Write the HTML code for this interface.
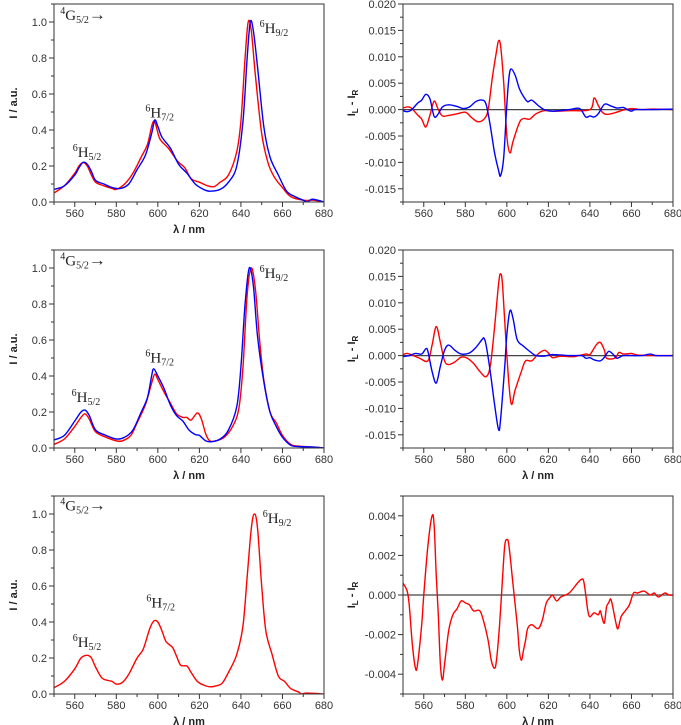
<!DOCTYPE html>
<html><head><meta charset="utf-8">
<style>
html,body{margin:0;padding:0;background:#fff;}
svg{display:block;}
.tk{font-family:"Liberation Sans",Arial,sans-serif;font-size:11px;fill:#333;}
.at{font-family:"Liberation Sans",Arial,sans-serif;font-size:11px;font-weight:bold;fill:#222;}
.lb{font-family:"Liberation Serif",serif;font-size:15px;fill:#222;}
</style></head>
<body>
<svg id="fig" width="681" height="725" viewBox="0 0 681 725" xmlns="http://www.w3.org/2000/svg"></svg>
<script>
// ---- data (wavelength nm, value) ----
const p1RedX=[550,555,560,562,564,566,568,570,574,578,580,584,588,592,595,597,598,599,601,605,608,610,613,616,620,624,627,630,634,638,640,642,643.5,645,647,650,653,656,660,664,670,675,680];
const p1RedY=[0.05,0.09,0.16,0.2,0.22,0.2,0.15,0.11,0.09,0.075,0.07,0.1,0.16,0.25,0.32,0.42,0.45,0.43,0.35,0.3,0.25,0.22,0.19,0.13,0.11,0.09,0.085,0.11,0.15,0.28,0.45,0.8,1.0,0.95,0.7,0.38,0.22,0.14,0.08,0.03,0.01,0.01,0.0];
const p1BlueX=[550,555,560,562,564,566,568,570,574,578,582,586,590,594,597,598.5,600,602,606,610,614,618,622,625,630,634,638,641,643,644.5,646,648,651,654,658,662,666,670,672,674,677,680];
const p1BlueY=[0.07,0.09,0.15,0.19,0.22,0.21,0.17,0.12,0.1,0.08,0.075,0.1,0.18,0.26,0.38,0.455,0.42,0.36,0.3,0.21,0.16,0.1,0.07,0.06,0.07,0.11,0.2,0.45,0.8,1.0,0.95,0.75,0.42,0.25,0.15,0.06,0.03,0.01,0.0,0.015,0.01,0.0];

const p4RedX=[550,555,560,563,565,567,570,575,580,583,587,590,594,597,598.5,600,603,606,609,612,614,616,619,621,623,625,628,632,636,639,641,643,645,647,649,651,654,657,660,664,668,675,680];
const p4RedY=[0.02,0.05,0.12,0.17,0.19,0.16,0.09,0.06,0.04,0.04,0.07,0.14,0.24,0.36,0.41,0.38,0.31,0.25,0.19,0.17,0.17,0.155,0.195,0.16,0.08,0.04,0.04,0.06,0.12,0.22,0.45,0.85,1.0,0.88,0.6,0.38,0.2,0.14,0.07,0.02,0.01,0.005,0.0];
const p4BlueX=[550,555,560,563,565,567,570,575,580,584,588,592,595,597,598,600,603,606,609,612,615,618,620,623,626,630,634,638,640,642,644,646,648,651,654,657,660,664,668,675,680];
const p4BlueY=[0.045,0.07,0.15,0.2,0.21,0.18,0.1,0.07,0.05,0.06,0.1,0.2,0.28,0.4,0.44,0.4,0.33,0.24,0.18,0.15,0.1,0.075,0.07,0.04,0.035,0.05,0.1,0.23,0.45,0.8,1.0,0.9,0.62,0.37,0.2,0.12,0.06,0.015,0.008,0.005,0.0];

const p3RedX=[550,555,560,563,566,568,570,573,576,578,580,583,586,590,593,596,598,600,602,604,607,609,611,614,616,619,622,625,628,631,634,638,641,643,645,646.5,648,650,652,655,658,661,664,668,669,672,680];
const p3RedY=[0.035,0.07,0.14,0.2,0.215,0.2,0.15,0.09,0.075,0.07,0.055,0.065,0.11,0.2,0.25,0.36,0.405,0.4,0.35,0.29,0.26,0.21,0.16,0.155,0.12,0.07,0.05,0.04,0.045,0.06,0.12,0.22,0.38,0.65,0.92,1.0,0.92,0.6,0.35,0.22,0.1,0.07,0.03,0.01,0.0,0.005,0.0];

const p2RedX=[550,552,554,557,559,561,563,565,567,569,572,576,580,583,586,589,591,593,595,596,597,598.5,600,601.5,603,606,608,611,614,618,622,630,640,642,644,646,648,652,656,660,665,670,680];
const p2RedY=[0.0003,0.0005,0.0003,-0.001,-0.0018,-0.0033,-0.001,0.0016,0.0,-0.0012,-0.0011,-0.0008,-0.0005,-0.0015,-0.0023,-0.0018,0.0,0.006,0.011,0.013,0.012,0.005,-0.005,-0.0082,-0.006,-0.0025,-0.0017,-0.0018,-0.0008,-0.0002,-0.0003,-0.0002,0.0,0.0022,0.0008,-0.0005,-0.0009,-0.0006,-0.0001,0.0002,0.0,0.0001,0.0];
const p2BlueX=[550,552,554,557,559,561,563,565,567,569,572,576,579,582,585,588,590,592,594,596,597,598.5,600,601,602,604,606,608,610,612,615,618,622,630,635,638,640,642,644,647,650,653,656,658,660,662,670,680];
const p2BlueY=[-0.0002,-0.0004,-0.0001,0.0012,0.0018,0.0029,0.002,-0.0013,-0.0008,0.0005,0.0009,0.0006,0.0002,0.0005,0.0015,0.0018,0.001,-0.003,-0.008,-0.0115,-0.0125,-0.009,0.001,0.006,0.0077,0.0065,0.004,0.0025,0.0015,0.0018,0.0008,0.0,-0.0003,0.0,0.0002,-0.0014,-0.0012,-0.0014,-0.0008,0.001,0.0007,0.0003,0.0004,0.0,-0.0003,0.0,0.0,0.0001];

const p5RedX=[550,552,555,558,562,564,566,568,570,572,575,578,581,584,587,590,592,594,596,597,598,600,602,604,607,609,612,615,618,620,622,626,632,638,640,643,645,647,648,652,654,656,660,663,670,680];
const p5RedY=[0.0002,0.0004,0.0,-0.0005,-0.001,0.002,0.0055,0.0025,-0.001,-0.0017,-0.0012,-0.0003,-0.0005,-0.0015,-0.003,-0.004,-0.002,0.005,0.0135,0.0155,0.013,0.0,-0.009,-0.0065,-0.003,-0.001,-0.001,0.0003,0.001,0.0005,-0.0004,-0.0001,-0.0002,0.0003,0.0002,0.002,0.0025,0.001,-0.0005,-0.0005,0.0006,0.0003,0.0004,0.0001,0.0,0.0];
const p5BlueX=[550,553,556,559,561,562,564,566,568,570,572,575,578,582,585,588,589,590,592,594,596,597,599,600,601.5,603,605,608,611,614,618,622,630,636,638,640,642,645,647,649,651,653,656,660,665,669,672,680];
const p5BlueY=[-0.0002,0.0,0.0004,0.0003,0.0013,0.0008,-0.003,-0.0052,-0.002,0.001,0.002,0.001,0.0003,0.0005,0.0015,0.003,0.0033,0.002,-0.003,-0.009,-0.014,-0.012,-0.002,0.004,0.0085,0.007,0.003,0.0018,0.0008,0.0,-0.0001,0.0002,0.0,0.0,-0.0005,-0.0004,-0.0008,-0.001,-0.0003,0.0008,0.0003,-0.0005,0.0,0.0,0.0,0.0003,0.0,0.0];

const p6RedX=[550,552,553,554.5,556,557,559,560,562,564,565,566,567,568,569,570,572,574,576,578,580,582,584,587,589,591,592.5,594,595,596.5,598,599,600,601,603,605,606,607,608,609,610,612,615,617,619,621,622,624,626,630,634,636,637,638,639,640,642,644,645,646,647,648,649,650,651,652.5,653.5,655,657,659,661,663,666,669,671,673,676,678,680];
const p6RedY=[0.0006,0.0002,-0.0005,-0.0025,-0.0037,-0.0035,-0.0015,0.0,0.0025,0.004,0.0035,0.001,-0.001,-0.0035,-0.0043,-0.0035,-0.0018,-0.001,-0.0007,-0.0003,-0.0004,-0.0005,-0.0008,-0.0008,-0.0014,-0.0023,-0.0033,-0.0037,-0.0033,-0.0015,0.001,0.0025,0.0028,0.0025,0.0005,-0.0015,-0.0028,-0.0033,-0.0028,-0.0023,-0.0017,-0.0015,-0.0017,-0.0013,-0.0004,-0.0001,0.0,-0.0003,-0.0001,0.0001,0.0006,0.0008,0.0007,0.0,-0.0008,-0.0011,-0.0009,-0.001,-0.0008,-0.0012,-0.0014,-0.0006,-0.0004,-0.0002,-0.0006,-0.0014,-0.0017,-0.0011,-0.0008,-0.0005,0.0001,0.0001,0.0002,0.0,0.0001,-0.0001,0.0001,0.0,0.0];

const xTicks=[560,580,600,620,640,660,680];
const leftYTicks=[0.0,0.2,0.4,0.6,0.8,1.0];
const leftYLabels=["0.0","0.2","0.4","0.6","0.8","1.0"];
const cdYTicks=[-0.015,-0.01,-0.005,0,0.005,0.01,0.015,0.02];
const cdYLabels=["-0.015","-0.010","-0.005","0.000","0.005","0.010","0.015","0.020"];
const cd3YTicks=[-0.004,-0.002,0,0.002,0.004];
const cd3YLabels=["-0.004","-0.002","0.000","0.002","0.004"];

const NS="http://www.w3.org/2000/svg";
const fig=document.getElementById('fig');
function mk(tag,attrs,parent){const e=document.createElementNS(NS,tag);for(const k in attrs)e.setAttribute(k,attrs[k]);(parent||fig).appendChild(e);return e;}

function smoothPath(pts){
  let d="M"+pts[0][0].toFixed(2)+","+pts[0][1].toFixed(2);
  for(let i=0;i<pts.length-1;i++){
    const p0=pts[Math.max(0,i-1)],p1=pts[i],p2=pts[i+1],p3=pts[Math.min(pts.length-1,i+2)];
    const t=0.5/3;
    let c1x=p1[0]+(p2[0]-p0[0])*t,c1y=p1[1]+(p2[1]-p0[1])*t;
    let c2x=p2[0]-(p3[0]-p1[0])*t,c2y=p2[1]-(p3[1]-p1[1])*t;
    d+=" C"+c1x.toFixed(2)+","+c1y.toFixed(2)+" "+c2x.toFixed(2)+","+c2y.toFixed(2)+" "+p2[0].toFixed(2)+","+p2[1].toFixed(2);
  }
  return d;
}

function panel(cfg){
  const g=mk('g',{});
  
  
  const L=cfg.x0,R=cfg.x1,T=cfg.y0,B=cfg.y1;
  const sx=v=>L+(v-550)/(680-550)*(R-L);
  const sy=v=>B-(v-cfg.ymin)/(cfg.ymax-cfg.ymin)*(B-T);
  const cid='clip'+cfg.name;
  const cp=mk('clipPath',{id:cid},g);mk('rect',{x:L,y:T,width:R-L,height:B-T},cp);
  if(cfg.zero){const zl=mk('line',{x1:L,x2:R,y1:sy(0),y2:sy(0),stroke:'#444','stroke-width':1.2},g);
    }
  cfg.series.forEach(s=>{
    const pts=s.x.map((v,i)=>[sx(v),sy(s.y[i])]);
    const p=mk('path',{d:smoothPath(pts),fill:'none',stroke:s.color,'stroke-width':1.4,'clip-path':'url(#'+cid+')'},g);
    
    
  });
  const fr=mk('rect',{x:L,y:T,width:R-L,height:B-T,fill:'none',stroke:'#333','stroke-width':1},g);
  
  for(let v=550;v<=680;v+=10){
    const major=(v%20===0);
    mk('line',{x1:sx(v),x2:sx(v),y1:B,y2:B+(major?5:3),stroke:'#333','stroke-width':1},g);
  }
  xTicks.forEach(v=>{
    const t=mk('text',{x:sx(v),y:B+15,'text-anchor':'middle',class:'tk'},g);t.textContent=v;
    
  });
  if(!cfg.noXTitle){
    const xt=mk('text',{x:(L+R)/2,y:B+31,'text-anchor':'middle',class:'at'},g);xt.textContent='λ / nm';
    
  }
  const step=cfg.yt[1]-cfg.yt[0];
  for(let v=cfg.yt[0]-step/2;v<=cfg.ymax+1e-9;v+=step/2){
    if(v<cfg.ymin-1e-9)continue;
    const major=cfg.yt.some(t=>Math.abs(t-v)<step*1e-3);
    mk('line',{x1:L,x2:L-(major?5:3),y1:sy(v),y2:sy(v),stroke:'#333','stroke-width':1},g);
  }
  cfg.yt.forEach((v,i)=>{
    const t=mk('text',{x:L-7,y:sy(v)+4,'text-anchor':'end',class:'tk'},g);t.textContent=cfg.yl[i];
    
  });
  const ty=(T+B)/2;
  const yt=mk('text',{x:0,y:0,'text-anchor':'middle',class:'at',transform:'translate('+cfg.ytx+','+ty+') rotate(-90)'},g);
  if(cfg.cd){yt.innerHTML='I<tspan font-size="8" dy="3">L</tspan><tspan dy="-3"> - I</tspan><tspan font-size="8" dy="3">R</tspan>';}
  else yt.textContent='I / a.u.';
  
  if(cfg.labels){
    cfg.labels.forEach(lb=>{
      const t=mk('text',{x:sx(lb.x),y:sy(lb.y),class:'lb'},g);
      t.innerHTML=lb.html;
      
    });
  }
}
function lab(l,dy){return [
  {x:553,y:1.01+dy,name:'transition-origin-label',html:'<tspan font-size="10" dy="-6">4</tspan><tspan dy="6">G</tspan><tspan font-size="10" dy="3">5/2</tspan><tspan dy="-3" font-size="17">→</tspan>'},
  {x:l[0],y:0.25+dy,name:'label-6H5-2',html:'<tspan font-size="10" dy="-6">6</tspan><tspan dy="6">H</tspan><tspan font-size="10" dy="3">5/2</tspan>'},
  {x:l[1],y:0.47+dy,name:'label-6H7-2',html:'<tspan font-size="10" dy="-6">6</tspan><tspan dy="6">H</tspan><tspan font-size="10" dy="3">7/2</tspan>'},
  {x:l[2],y:0.94+dy,name:'label-6H9-2',html:'<tspan font-size="10" dy="-6">6</tspan><tspan dy="6">H</tspan><tspan font-size="10" dy="3">9/2</tspan>'}
];}

panel({name:'emission-top',x0:54,x1:324,y0:4,y1:202,ymin:0,ymax:1.1,yt:leftYTicks,yl:leftYLabels,ytx:17,
  series:[{name:'red-emission',x:p1RedX,y:p1RedY,color:'#f00'},{name:'blue-emission',x:p1BlueX,y:p1BlueY,color:'#00f'}],
  labels:lab([559,594,649],0)});
panel({name:'cd-top',x0:403,x1:673,y0:4,y1:202,ymin:-0.0175,ymax:0.02,yt:cdYTicks,yl:cdYLabels,ytx:355,zero:true,cd:true,noXTitle:true,
  series:[{name:'red-cd',x:p2RedX,y:p2RedY,color:'#f00'},{name:'blue-cd',x:p2BlueX,y:p2BlueY,color:'#00f'}]});
panel({name:'emission-middle',x0:54,x1:324,y0:250,y1:448,ymin:0,ymax:1.1,yt:leftYTicks,yl:leftYLabels,ytx:17,
  series:[{name:'red-emission',x:p4RedX,y:p4RedY,color:'#f00'},{name:'blue-emission',x:p4BlueX,y:p4BlueY,color:'#00f'}],
  labels:lab([558.5,594,649],0.005)});
panel({name:'cd-middle',x0:403,x1:673,y0:250,y1:448,ymin:-0.0175,ymax:0.02,yt:cdYTicks,yl:cdYLabels,ytx:355,zero:true,cd:true,
  series:[{name:'red-cd',x:p5RedX,y:p5RedY,color:'#f00'},{name:'blue-cd',x:p5BlueX,y:p5BlueY,color:'#00f'}]});
panel({name:'emission-bottom',x0:54,x1:324,y0:496,y1:694,ymin:0,ymax:1.1,yt:leftYTicks,yl:leftYLabels,ytx:17,
  series:[{name:'red-emission',x:p3RedX,y:p3RedY,color:'#f00'}],
  labels:lab([559,594.5,650.5],0.01)});
panel({name:'cd-bottom',x0:403,x1:673,y0:496,y1:694,ymin:-0.005,ymax:0.005,yt:cd3YTicks,yl:cd3YLabels,ytx:355,zero:true,cd:true,
  series:[{name:'red-cd',x:p6RedX,y:p6RedY,color:'#f00'}]});
</script>
</body></html>
